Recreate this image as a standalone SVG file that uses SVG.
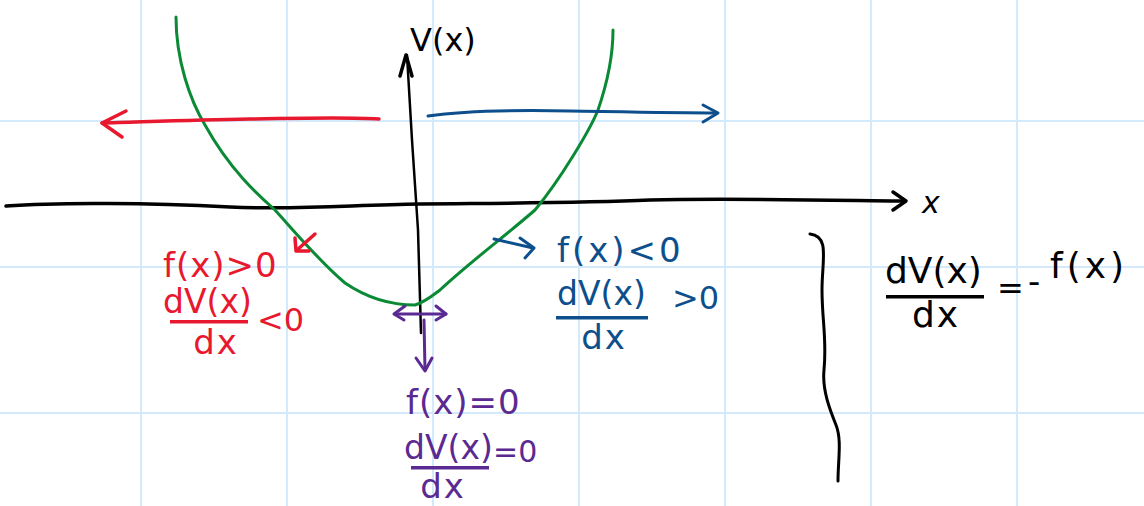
<svg xmlns="http://www.w3.org/2000/svg" width="1144" height="506" viewBox="0 0 1144 506">
<style>
.grid{stroke:#d3eafc;stroke-width:2;fill:none}
.ln{fill:none;stroke-linecap:round;stroke-linejoin:round}
.t{font-family:"DejaVu Sans","Liberation Sans",sans-serif}
.red{fill:#e8182e}.redS{stroke:#e8182e}
.blue{fill:#0d4f8c}.blueS{stroke:#0d4f8c}
.pur{fill:#5a2a92}.purS{stroke:#5a2a92}
.blk{fill:#000}.blkS{stroke:#000}
.mid{text-anchor:middle}
</style>
<rect width="1144" height="506" fill="#fff"/>
<g id="grid" class="grid">
<line x1="141" y1="0" x2="141" y2="506"/><line x1="287" y1="0" x2="287" y2="506"/><line x1="433" y1="0" x2="433" y2="506"/><line x1="579" y1="0" x2="579" y2="506"/><line x1="725" y1="0" x2="725" y2="506"/><line x1="871" y1="0" x2="871" y2="506"/><line x1="1017" y1="0" x2="1017" y2="506"/>
<line x1="0" y1="121" x2="1144" y2="121"/><line x1="0" y1="267" x2="1144" y2="267"/><line x1="0" y1="413" x2="1144" y2="413"/>
</g>
<g id="connectors">
<g id="axes" class="ln blkS">
<path d="M6 206 C60 202 150 203 230 207 C300 210 350 205 420 204 C520 203 580 203 650 200 C720 198 820 200 905 201" stroke-width="3.5"/>
<path d="M893 192 L906 201 L893 210" stroke-width="3.5"/>
<path d="M421 333 L418 230 L412 140 L407 55" stroke-width="2.5"/>
<path d="M400 76 L406 55 L412 76" stroke-width="3.5"/>
</g>
<path id="curve" class="ln" stroke="#0a8a35" stroke-width="3" d="M176 17 C176 60 190 100 205 125 C230 170 258 195 275 210 C295 232 320 262 345 283 C370 300 395 305 415 305 C425 302 432 296 440 290 C470 262 510 232 535 210 C560 180 590 130 598 110 C610 75 613 50 613 30"/>
<g id="red-arrows" class="ln redS" stroke-width="3.5">
<path d="M379 119 C350 117 300 118 250 119 C190 120 140 122 102 123"/>
<path d="M126 111 L102 123 L122 137"/>
<path d="M315 234 L297 250"/><path d="M295 238 L296 251 L309 251"/>
</g>
<g id="blue-arrows" class="ln blueS" stroke-width="3">
<path d="M428 116 C470 110 520 110 570 111 C630 112 680 113 717 113"/>
<path d="M703 105 L718 113 L703 122"/>
<path d="M494 239 L533 248"/><path d="M520 238 L534 248 L525 258"/>
</g>
<g id="purple-arrows" class="ln purS" stroke-width="3">
<path d="M395 314 L446 314"/><path d="M405 306 L394 314 L404 320"/><path d="M436 306 L446 314 L436 320"/>
<path d="M424 320 L425 370"/><path d="M416 358 L425 371 L432 358"/>
</g>
<path id="brace" class="ln blkS" stroke-width="3" d="M810 234 C830 236 822 260 822 290 C822 320 827 340 824 370 C822 390 830 410 836 425 C842 440 838 460 838 481"/>
</g>
<g id="label-V" class="t blk"><text x="410" y="51" font-size="32">V(x)</text></g>
<g id="label-x" class="t blk"><text x="922" y="213" font-size="30" font-style="italic">x</text></g>
<g id="node-left" class="t red">
<text x="163" y="277" font-size="34" letter-spacing="1">f(x)&gt;0</text>
<text x="163" y="313" font-size="33">dV(x)</text>
<rect x="170" y="320" width="78" height="3.5"/>
<text class="mid" x="216" y="354" font-size="34" letter-spacing="2">dx</text>
<text x="257" y="331" font-size="32">&lt;0</text>
</g>
<g id="node-right" class="t blue">
<text x="557" y="262" font-size="34" letter-spacing="3">f(x)&lt;0</text>
<text x="557" y="305" font-size="33">dV(x)</text>
<rect x="556" y="316" width="92" height="3.5"/>
<text class="mid" x="604" y="349" font-size="34" letter-spacing="2">dx</text>
<text x="672" y="309" font-size="32">&gt;0</text>
</g>
<g id="node-bottom" class="t pur">
<text x="406" y="414" font-size="34" letter-spacing="1">f(x)=0</text>
<text x="404" y="459" font-size="33">dV(x)</text>
<rect x="411" y="466" width="78" height="3.5"/>
<text class="mid" x="443" y="498" font-size="34" letter-spacing="2">dx</text>
<text x="493" y="462" font-size="30">=0</text>
</g>
<g id="node-equation" class="t blk">
<text x="885" y="283" font-size="36">dV(x)</text>
<rect x="886" y="295" width="98" height="3.5"/>
<text class="mid" x="936" y="327" font-size="36" letter-spacing="2">dx</text>
<text x="997" y="299" font-size="32">=</text>
<text x="1028" y="293" font-size="34">-</text>
<text x="1050" y="278" font-size="36" letter-spacing="4">f(x)</text>
</g>
</svg>
